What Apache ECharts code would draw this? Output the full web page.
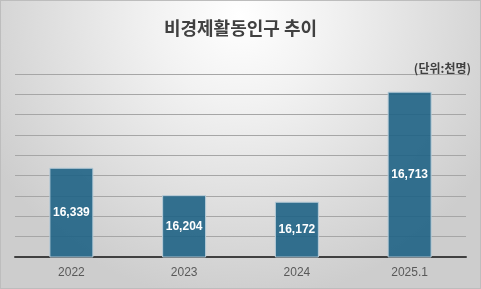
<!DOCTYPE html>
<html><head><meta charset="utf-8">
<script src="https://cdn.jsdelivr.net/npm/echarts@6/dist/echarts.min.js"></script>
<style>
html,body{margin:0;padding:0;}
#c{width:481px;height:289px;box-sizing:border-box;border:1px solid #bdbdbd;}
</style></head>
<body><div id="c"></div>
<script>
const categories = ['2022', '2023', '2024', '2025.1'];
const values = [16339, 16204, 16172, 16713];
const titleText = '비경제활동인구 추이';
const unitText = '(단위:천명)';

const chart = echarts.init(document.getElementById('c'));
chart.setOption({
  animation: false,
  backgroundColor: {
    type: 'radial', x: 0.5, y: 0.05, r: 1.0,
    colorStops: [{offset: 0, color: '#ffffff'}, {offset: 0.3, color: '#f2f2f2'}, {offset: 1, color: '#cdcdcd'}]
  },
  title: [{
    text: titleText, left: 'center', top: 13,
    textStyle: {fontFamily: 'Noto Sans CJK KR', fontSize: 18, fontWeight: 'bold', color: '#404040'}
  }, {
    text: unitText, right: 4, top: 56,
    textStyle: {fontFamily: 'Noto Sans CJK KR', fontSize: 12, fontWeight: 'bold', color: '#404040'}
  }],
  grid: {left: 14, right: 14, top: 73, bottom: 31, containLabel: false},
  xAxis: {
    type: 'category', data: categories,
    axisLine: {lineStyle: {color: '#404040', width: 2}},
    axisTick: {show: false},
    axisLabel: {color: '#595959', fontSize: 12, fontFamily: 'Arial', margin: 10}
  },
  yAxis: {
    type: 'value', min: 15900, max: 16800, interval: 100,
    axisLabel: {show: false}, axisLine: {show: false}, axisTick: {show: false},
    splitLine: {lineStyle: {color: '#a6a6a6', width: 1}}
  },
  series: [{
    type: 'bar', data: values, barWidth: '39%',
    itemStyle: {color: 'rgba(31,99,133,0.9)', borderColor: '#b8ccd8', borderWidth: 1},
    label: {
      show: true, position: 'inside', color: '#ffffff', fontWeight: 'bold', fontSize: 12,
      fontFamily: 'Arial',
      formatter: p => p.value.toLocaleString('en-US')
    }
  }]
});
</script></body></html>
